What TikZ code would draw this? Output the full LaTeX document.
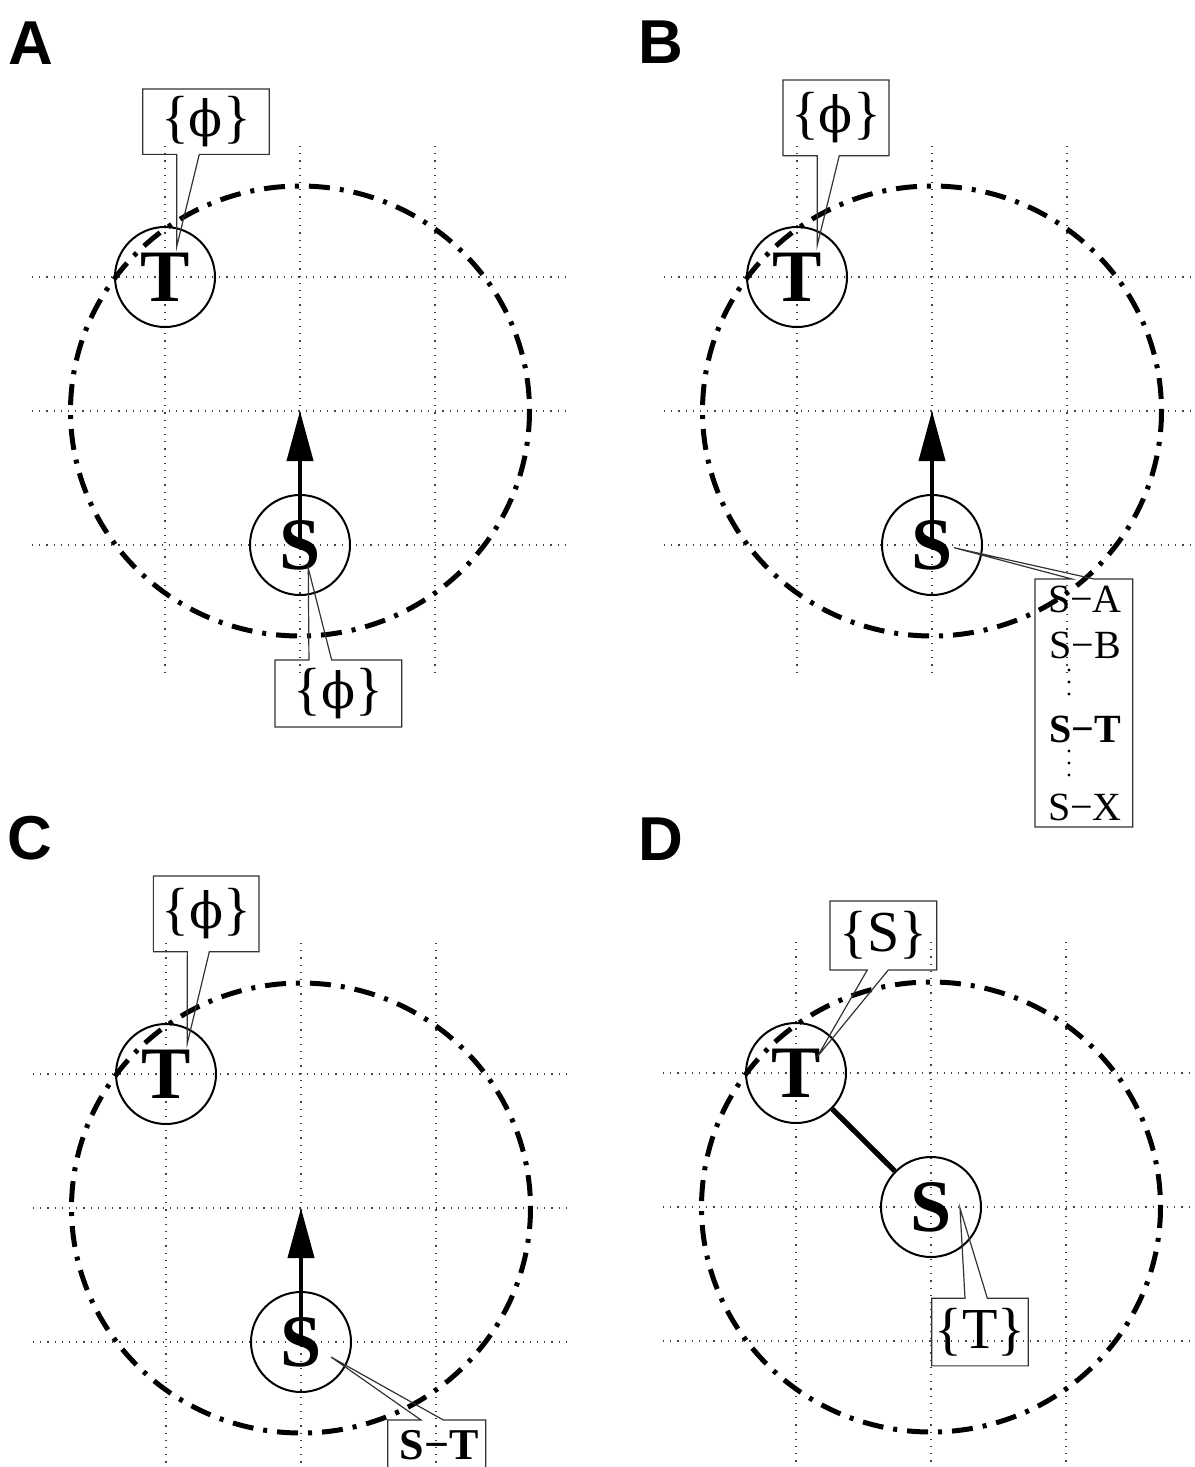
\documentclass[tikz,border=0pt]{standalone}
\usepackage{fontspec}
\setmainfont{Liberation Serif}
\newfontfamily\panelfont{Liberation Sans}
\newfontfamily\phifont{DejaVu Serif}
\usetikzlibrary{arrows.meta}

% box with a pointer on one side: box, side, other side, base 1, base 2, tip
\newcommand{\tagbubble}[6]{%
  \draw[tagline] (#1.#2 west) -- ([xshift=#4]#1.#2 west) -- (#6)
    -- ([xshift=#5]#1.#2 west) -- (#1.#2 east) -- (#1.#3 east) -- (#1.#3 west) -- cycle;}
\newcommand{\nolist}{\{{\phifont\fontsize{25}{30}\selectfont ϕ}\}}

\begin{document}
\begin{tikzpicture}[x=0.5pt,y=-0.5pt,
  gridline/.style={line width=0.6pt, dash pattern=on 0.6pt off 3pt, black!75},
  orbit/.style={line width=2.5pt, dash pattern=on 10.5pt off 5pt on 2pt off 5pt},
  station/.style={circle, draw, line width=1pt, minimum size=50pt, inner sep=0pt,
    font=\fontsize{37}{40}\selectfont\bfseries},
  tagbox/.style={rectangle, inner sep=0pt, outer sep=0pt, font=\fontsize{29}{32}\selectfont},
  tagline/.style={line width=0.6pt, black!80, line join=miter},
  heading/.style={line width=2pt, -{Triangle[length=25pt,width=13pt]}},
  link/.style={line width=2.6pt},
  panel/.style={anchor=base west, inner sep=0pt, font=\panelfont\bfseries\fontsize{31}{31}\selectfont},
  pair/.style={anchor=base, inner sep=0pt, font=\fontsize{20}{22}\selectfont}]

\useasboundingbox (0,0) rectangle (1194,1467);

% grid and range of each panel
\foreach \cx/\cy in {300/411, 932/411, 301/1208, 931/1207} {
  \foreach \d in {-134,0,134}
    \draw[gridline] ({\cx-268},{\cy+\d}) -- ({\cx+266},{\cy+\d});
  \foreach \d in {-135,0,135}
    \draw[gridline] ({\cx+\d},{\cy-265}) -- ({\cx+\d},{\cy+263});
  \draw[orbit] (\cx,\cy) ellipse [x radius=229.5, y radius=225];
}

% A
\node[panel] (labA) at (8,64) {A};
\coordinate (Oa) at (300,411);
\node[station] (Ta) at (165,277) {T};
\node[station] (Sa) at (300,545) {S};
\draw[heading] (Sa.center) -- (Oa);
\node[tagbox, minimum width=63.3pt, minimum height=32.65pt] (tagTa) at (206,121.7) {\nolist};
\coordinate (tipTa) at (176.7,246.7);
\tagbubble{tagTa}{south}{north}{17pt}{28.3pt}{tipTa}
\node[tagbox, minimum width=63.35pt, minimum height=33.5pt] (tagSa) at (338.3,693.5) {\nolist};
\coordinate (tipSa) at (308.3,568.3);
\tagbubble{tagSa}{north}{south}{17pt}{28.35pt}{tipSa}

% B
\node[panel] (labB) at (638,63.5) {B};
\coordinate (Ob) at (932,411);
\node[station] (Tb) at (797,277) {T};
\node[station] (Sb) at (932,545) {S};
\draw[heading] (Sb.center) -- (Ob);
\node[tagbox, minimum width=53pt, minimum height=37.85pt] (tagTb) at (836,117.8) {\nolist};
\coordinate (tipTb) at (817.3,245);
\tagbubble{tagTb}{south}{north}{17.15pt}{28.15pt}{tipTb}
\node[tagbox, minimum width=48.85pt, minimum height=124pt] (listSb) at (1083.8,703) {};
\coordinate (tipSb) at (954,547.7);
\tagbubble{listSb}{north}{south}{18.5pt}{29.5pt}{tipSb}
\node[pair] (pairSA) at (1085,612.7) {S−A};
\node[pair] (pairSB) at (1085,658) {S−B};
\node[pair, font=\fontsize{20}{22}\selectfont\bfseries] (pairST) at (1085,742.7) {S−T};
\node[pair] (pairSX) at (1085,820) {S−X};
\foreach \y in {670,682,694,751,763,775}
  \fill (1069,\y) circle (1.6);

% C
\node[panel] (labC) at (7,859) {C};
\coordinate (Oc) at (301,1208);
\node[station] (Tc) at (166,1074) {T};
\node[station] (Sc) at (301,1342) {S};
\draw[heading] (Sc.center) -- (Oc);
\node[tagbox, minimum width=52.85pt, minimum height=37.85pt] (tagTc) at (206.2,913.8) {\nolist};
\coordinate (tipTc) at (187.3,1043.3);
\tagbubble{tagTc}{south}{north}{17pt}{28pt}{tipTc}
\node[tagbox, minimum width=49pt, minimum height=33.5pt] (tagSc) at (436.7,1453.5) {};
\node[pair, font=\fontsize{22}{24}\selectfont\bfseries] (pairSTc) at (439,1459) {S−T};
\coordinate (tipSc) at (331,1357);
\tagbubble{tagSc}{north}{south}{16.65pt}{27.8pt}{tipSc}

% D
\node[panel] (labD) at (638,860) {D};
\node[station] (Td) at (796,1073) {T};
\node[station] (Sd) at (931,1207) {S};
\draw[link] (Td) -- (Sd);
\node[tagbox, minimum width=53.35pt, minimum height=34.5pt] (tagTd) at (883.3,935.5) {\{S\}};
\coordinate (tipTd) at (817.3,1056.7);
\tagbubble{tagTd}{south}{north}{18.65pt}{29.15pt}{tipTd}
\node[tagbox, minimum width=48.3pt, minimum height=33.85pt] (tagSd) at (980,1332) {\{T\}};
\coordinate (tipSd) at (960,1208.3);
\tagbubble{tagSd}{north}{south}{16.65pt}{27.8pt}{tipSd}
\end{tikzpicture}
\end{document}
